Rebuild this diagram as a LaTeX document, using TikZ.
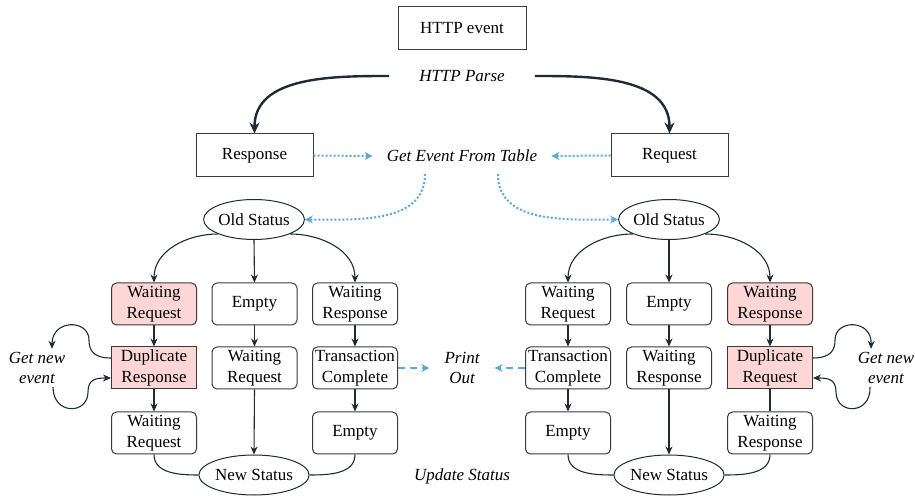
\documentclass[tikz,border=0pt]{standalone}
\usepackage{fontspec}
\setmainfont{Liberation Serif}
\usetikzlibrary{arrows.meta,shapes.geometric}
\definecolor{linecol}{HTML}{1E2B36}
\definecolor{boxcol}{HTML}{3A3A3A}
\definecolor{pinkfill}{HTML}{FFD6D6}
\definecolor{bluecol}{HTML}{5DA9D3}
\newcommand\dfont{\fontsize{17}{20.5}\selectfont}
\tikzset{
  box/.style={draw=boxcol, line width=1pt, rounded corners=5pt, minimum width=85pt, minimum height=42pt, inner sep=0pt, align=center, font=\dfont},
  pinkbox/.style={box, fill=pinkfill},
  pinkrect/.style={box, fill=pinkfill, sharp corners},
  sbox/.style={draw=boxcol, line width=1pt, minimum height=43pt, inner sep=0pt, font=\dfont},
  oval/.style={ellipse, draw=linecol, line width=1pt, minimum width=96pt, minimum height=40pt, inner sep=0pt, font=\dfont},
  lbl/.style={font=\dfont\itshape, align=center},
  arr/.style={draw=linecol, line width=1.1pt, -{Stealth[length=8pt,width=7pt]}},
  ln/.style={draw=linecol, line width=1.1pt},
  bigarr/.style={draw=linecol, line width=2.4pt, -{Stealth[length=11pt,width=10pt]}},
  dotarr/.style={draw=bluecol, line width=2pt, dash pattern=on 2pt off 2pt, -{Stealth[length=8pt,width=8pt]}},
  dasharr/.style={draw=bluecol, line width=2pt, dash pattern=on 7pt off 5pt, -{Stealth[length=8pt,width=8pt]}}
}
\begin{document}
\begin{tikzpicture}[x=1pt,y=1pt]
\useasboundingbox (0,0) rectangle (915,495);
% top
\node[sbox, minimum width=128pt] (http) at (462,467) {HTTP event};
\node[lbl, inner xsep=30pt] (parse) at (462,419) {HTTP Parse};
\node[sbox, minimum width=117pt] (resp) at (254.5,339.5) {Response};
\node[sbox, minimum width=117pt] (req) at (669.5,339.5) {Request};
\node[lbl, inner xsep=14pt, inner ysep=12pt] (get) at (462,339) {Get Event From Table};
\node[oval] (oldL) at (254,275.5) {Old Status};
\node[oval] (oldR) at (669,275.5) {Old Status};
% left columns
\node[pinkbox] (l11) at (154,191) {Waiting\\Request};
\node[pinkrect] (l12) at (154,127) {Duplicate\\Response};
\node[box] (l13) at (154,62) {Waiting\\Request};
\node[box] (l21) at (254.5,191) {Empty};
\node[box] (l22) at (254.5,127) {Waiting\\Request};
\node[box] (l31) at (355,191) {Waiting\\Response};
\node[box] (l32) at (355,127) {Transaction\\Complete};
\node[box] (l33) at (355,62) {Empty};
% right columns
\node[box] (r11) at (568,191) {Waiting\\Request};
\node[box] (r12) at (568,127) {Transaction\\Complete};
\node[box] (r13) at (568,62) {Empty};
\node[box] (r21) at (669,191) {Empty};
\node[box] (r22) at (669,127) {Waiting\\Response};
\node[pinkbox] (r31) at (770,191) {Waiting\\Response};
\node[pinkrect] (r32) at (770,127) {Duplicate\\Request};
\node[box] (r33) at (770,62) {Waiting\\Response};
% bottom
\node[oval] (newL) at (254,20) {New Status};
\node[oval] (newR) at (669,20) {New Status};
\node[lbl, inner xsep=15pt] (print) at (462,127) {Print\\Out};
\node[lbl] (update) at (462,19) {Update Status};
\node[lbl, inner ysep=3pt] (gneL) at (37,127) {Get new\\event};
\node[lbl, inner ysep=3pt] (gneR) at (886,127) {Get new\\event};
% parse arrows
\draw[bigarr] (parse.west) to[out=180,in=90] (resp.north);
\draw[bigarr] (parse.east) to[out=0,in=90] (req.north);
% dotted
\draw[dotarr] (resp.east) -- (get.west);
\draw[dotarr] (req.west) -- (get.east);
\draw[dotarr] ([xshift=-37pt]get.south) to[out=-90,in=0] (oldL.east);
\draw[dotarr] ([xshift=36pt]get.south) to[out=-90,in=180] (oldR.west);
% old status to columns
\draw[arr] (oldL.south west) to[out=180,in=90] (l11.north);
\draw[arr] (oldL.south) -- (l21.north);
\draw[arr] (oldL.south east) to[out=0,in=90] (l31.north);
\draw[arr] (oldR.south west) to[out=180,in=90] (r11.north);
\draw[arr] (oldR.south) -- (r21.north);
\draw[arr] (oldR.south east) to[out=0,in=90] (r31.north);
% left columns
\draw[arr] (l11) -- (l12);
\draw[arr] (l12) -- (l13);
\draw[arr] (l21) -- (l22);
\draw[arr] (l22.south) -- (newL.north);
\draw[arr] (l31) -- (l32);
\draw[arr] (l32) -- (l33);
\draw[ln] (l13.south) to[out=-90,in=180] (newL.west);
\draw[ln] (l33.south) to[out=-90,in=0] (newL.east);
% right columns
\draw[arr] (r11) -- (r12);
\draw[arr] (r12) -- (r13);
\draw[arr] (r21) -- (r22);
\draw[arr] (r22.south) -- (newR.north);
\draw[arr] (r31) -- (r32);
\draw[ln] (r32) -- (r33);
\draw[ln] (r13.south) to[out=-90,in=180] (newR.west);
\draw[ln] (r33.south) to[out=-90,in=0] (newR.east);
% print out
\draw[dasharr] (l32.east) -- (print.west);
\draw[dasharr] (r12.west) -- (print.east);
% loops left
\draw[arr] ([yshift=10pt]l12.west) .. controls (93,137) and (89,145) .. (89,155)
  .. controls (89,176) and (52,176) .. ([xshift=15pt]gneL.north);
\draw[arr] ([xshift=16pt]gneL.south) .. controls (53,80) and (88,80) .. (88,103)
  .. controls (88,116) and (96,117) .. ([yshift=-10pt]l12.west);
% loops right
\draw[arr] ([yshift=10pt]r32.east) .. controls (831,137) and (835,145) .. (835,155)
  .. controls (835,176) and (872,176) .. ([xshift=-15pt]gneR.north);
\draw[arr] ([xshift=-16pt]gneR.south) .. controls (871,80) and (836,80) .. (836,103)
  .. controls (836,116) and (828,117) .. ([yshift=-10pt]r32.east);
\end{tikzpicture}
\end{document}
